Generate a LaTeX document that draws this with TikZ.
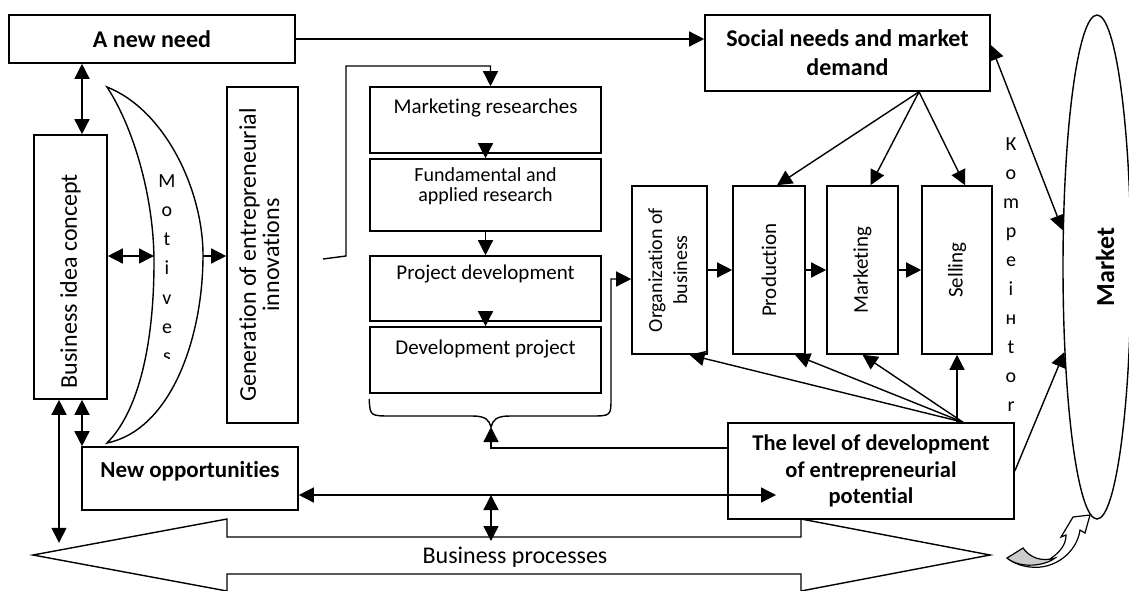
\documentclass[tikz,border=0pt]{standalone}
\usepackage{fontspec}
\setmainfont{Carlito}[Ligatures=NoCommon, Contextuals=NoAlternate]
\usetikzlibrary{arrows.meta}
\usetikzlibrary{shapes.geometric}
\tikzset{
box/.style={ % Sets the properties for each box
draw,
line width=1.6pt,
fill=white,
inner sep=2pt},
head/.style={font=\fontsize{23}{26.5}\selectfont\bfseries, align=center}, % bold titles
plain/.style={font=\fontsize{21}{25}\selectfont, align=center},
letter/.style={font=\fontsize{20}{22}\selectfont, inner sep=0, anchor=base}, % one letter per line
arr/.style={ % directed connector with a filled head
line width=1.4pt,
-{Triangle[length=15pt,width=15pt]}},
dbl/.style={line width=1.4pt,
{Triangle[length=15pt,width=15pt]}-{Triangle[length=15pt,width=15pt]}}}

\begin{document}
\begin{tikzpicture}[x=1pt,y=-1pt]
\useasboundingbox (0,0) rectangle (1129,590);
% business processes
\draw[line width=1.4pt] (33,555) -- (227,519) -- (227,537) -- (801,537) -- (801,519) -- (990,555)
  -- (801,591) -- (801,574) -- (227,574) -- (227,591) -- cycle;
\node[font=\fontsize{24}{28}\selectfont] (bp) at (515,557) {Business processes};
% motives
\draw[line width=1.4pt, fill=white] (107,87) .. controls (165,110) and (203,190) .. (203,255)
  .. controls (203,340) and (170,430) .. (107,443)
  .. controls (140,410) and (154,340) .. (154,262)
  .. controls (154,200) and (135,130) .. cycle;
\begin{scope}
\clip (140,160) rectangle (195,358);
\foreach \c [count=\i] in {M,o,t,i,v,e,s}
  \node[letter] (mot\i) at (167,{187+29.3*(\i-1)}) {\c};
\end{scope}
\coordinate (motin) at (154,256);
\coordinate (motout) at (203,256);
% boxes
\node[box, head, minimum width=286pt, minimum height=48pt, font=\fontsize{24}{28}\selectfont\bfseries] (need) at (152,39) {A new need};
\node[box, head, minimum width=285pt, minimum height=76pt, font=\fontsize{24}{29}\selectfont\bfseries] (social) at (847.5,53) {Social needs and market\\demand};
\node[box, minimum width=73pt, minimum height=264pt, font=\fontsize{24}{28}\selectfont] (idea) at (70.5,267) {\rotatebox{90}{Business idea concept\hspace*{28pt}}};
\node[box, minimum width=71pt, minimum height=336pt, font=\fontsize{24}{22}\selectfont] (gen) at (262.5,255) {\rotatebox{90}{\begin{tabular}{@{}c@{}}Generation of entrepreneurial\\innovations\end{tabular}}};
\node[box, plain, minimum width=231pt, minimum height=66pt, text depth=27pt] (mr) at (485.5,120) {Marketing researches};
\node[box, plain, minimum width=231pt, minimum height=72pt, text depth=21pt, font=\fontsize{20}{20}\selectfont] (far) at (485.5,195) {Fundamental and\\applied research};
\node[box, plain, minimum width=231pt, minimum height=65pt, text depth=32pt] (pd) at (485.5,288.5) {Project development};
\node[box, plain, minimum width=231pt, minimum height=66pt, text depth=25pt] (dp) at (485.5,360) {Development project};
\node[box, minimum width=75pt, minimum height=168pt, font=\fontsize{20}{25}\selectfont] (org) at (669.5,270) {\rotatebox{90}{\begin{tabular}{@{}c@{}}Organization of\\business\end{tabular}}};
\node[box, plain, minimum width=72pt, minimum height=168pt] (prod) at (769,270) {\rotatebox{90}{Production}};
\node[box, plain, minimum width=71pt, minimum height=168pt] (mkt) at (862.5,270) {\rotatebox{90}{Marketing}};
\node[box, plain, minimum width=70pt, minimum height=168pt] (sell) at (957,270) {\rotatebox{90}{Selling}};
\node[box, head, minimum width=216pt, minimum height=63pt, text depth=19pt] (newopp) at (190,478.5) {New opportunities};
\node[box, head, minimum width=286pt, minimum height=96pt, font=\fontsize{22.5}{26.5}\selectfont\bfseries] (level) at (871,471) {The level of development\\of entrepreneurial\\potential};
\node[draw, ellipse, line width=1.4pt, minimum width=68pt, minimum height=504pt, inner sep=0] (market) at (1097,267) {};
\node[rotate=90, font=\fontsize{26}{30}\selectfont\bfseries] (mkttext) at (1105,267) {Market};
\foreach \c [count=\i] in {К,o,m,p,e,i,н,t,o,r}
  \node[letter] (kom\i) at (1011,{150+29.1*(\i-1)}) {\c};
% connectors
\draw[arr] (need.east) -- (need.east -| social.west);
\draw[dbl] ([xshift=11.5pt]idea.north) -- ([xshift=11.5pt]idea.north |- need.south);
\draw[dbl] (idea.east |- motin) -- (motin);
\draw[arr] (motout) -- (motout -| gen.west);
\draw[dbl] ([xshift=-11.5pt]idea.south) -- ++(0,143);
\draw[dbl] ([xshift=11.5pt]idea.south) -- ([xshift=11.5pt]idea.south |- newopp.north);
\coordinate (lvin) at (776,495);
\coordinate (bpin) at (491,541);
\draw[dbl] (newopp.east |- lvin) -- (lvin);
\draw[dbl] (lvin -| bpin) -- (bpin);
\coordinate (brk) at (323,259);
\draw[arr] (brk) -- (346,256) -- (346,66) -| ([xshift=5pt]mr.north);
\draw[arr] (mr.south) -- (far.north);
\draw[arr] (far.south) -- (pd.north);
\draw[arr] (pd.south) -- (dp.north);
\draw[arr] ([yshift=-5pt]dp.south west) .. controls (370,416) .. (392,416) -- (472,416)
  .. controls (486,416) and (489,420) .. (491,427) .. controls (493,420) and (496,416) .. (510,416)
  -- (590,416) .. controls (611,416) .. (611,398) -- (611,279) -- ([yshift=-9pt]org.west);
\coordinate (brtip) at (491,427);
\draw[arr] ([yshift=23pt]level.west) -| (brtip);
\coordinate (sd) at ([xshift=71.5pt]social.south);
\foreach \b in {prod,mkt,sell}
  \draw[arr] (sd) -- ([xshift=8pt]\b.north);
\foreach \a/\b in {org/prod,prod/mkt,mkt/sell}
  \draw[arr] (\a.east) -- (\b.west);
\coordinate (lv) at ([xshift=92pt]level.north);
\foreach \b/\s in {org/20,prod/26,mkt/0}
  \draw[arr] (lv) -- ([xshift=\s pt]\b.south);
\draw[arr] (sell.south |- lv) -- (sell.south);
\draw[dbl] ([yshift=8pt]social.east) -- (market.133);
\draw[arr] (level.east) -- (market.249);
% curved arrow
\draw[line width=1.2pt, fill=white] (1050,559) .. controls (1060,552) and (1066,545) .. (1066,535)
  -- (1061,537) -- (1073,517) -- (1090,515) -- (1085,533) -- (1080,530)
  .. controls (1077,552) and (1055,570) .. (1030,567) .. controls (1020,566) and (1012,562) .. (1007,558);
\draw[line width=1.2pt, fill=gray!40] (1007,558) -- (1023,548) .. controls (1030,558) and (1042,562) .. (1055,558)
  .. controls (1045,566) and (1020,569) .. cycle;
\end{tikzpicture}
\end{document}
